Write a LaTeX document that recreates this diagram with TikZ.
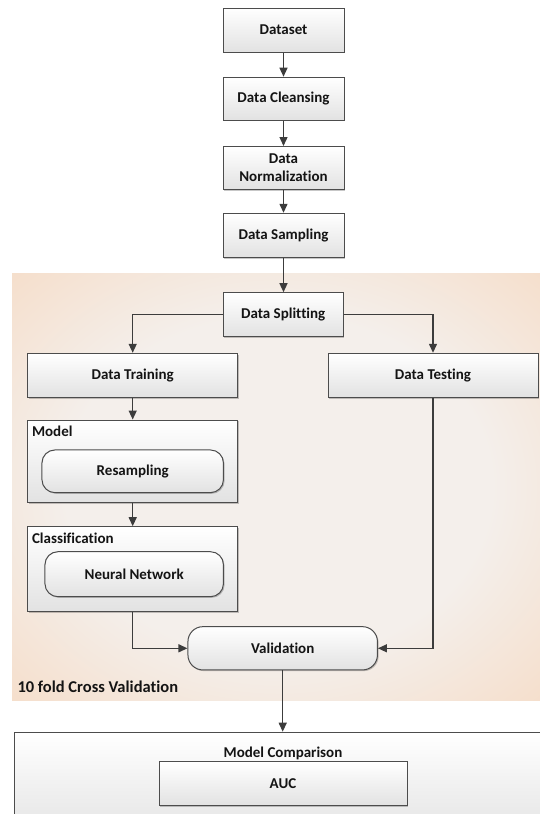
\documentclass[tikz,border=0pt]{standalone}
\usepackage{fontspec}
\setmainfont[Ligatures=NoCommon]{Carlito}
\usetikzlibrary{arrows.meta,shadows,calc}

\definecolor{boxline}{HTML}{4C4C4C}
\definecolor{boxgray}{HTML}{E2E2E2}
\definecolor{arrowc}{HTML}{3C3C3C}
\definecolor{textc}{HTML}{141414}
\definecolor{glowin}{HTML}{F4EFEB}
\definecolor{glowout}{HTML}{F6CFAE}

% soft peach glow used behind the cross-validation block
\pgfdeclareradialshading{peachglow}{\pgfpoint{0bp}{0bp}}{%
  color(0bp)=(glowin); color(20bp)=(glowin); color(50bp)=(glowout); color(72bp)=(glowout)}

\tikzset{
  txt/.style={font=\bfseries\fontsize{15}{18}\selectfont, text=textc},
  box/.style={txt, draw=boxline, line width=1pt, top color=white, bottom color=boxgray,
    align=center, inner sep=2pt,
    drop shadow={shadow xshift=1.2pt, shadow yshift=-1.2pt, opacity=0.22, fill=black}},
  rbox/.style={box, rounded corners=13pt},
  flow/.style={draw=arrowc, line width=1.3pt, -{Triangle[length=9pt,width=8pt]}},
}

\begin{document}
\begin{tikzpicture}[x=1pt, y=-1pt]
  \useasboundingbox (0,0) rectangle (539,814);

  % cross-validation background
  \shade[shading=peachglow] (12,273) rectangle (545,700);
  \node[txt, font=\bfseries\fontsize{16.5}{19}\selectfont, anchor=west] (cvlabel) at (14,687) {10 fold Cross Validation};

  % main preprocessing column
  \node[box, minimum width=121pt, minimum height=44pt] (dataset) at (283.5,30) {Dataset};
  \node[box, minimum width=121pt, minimum height=43pt] (cleansing) at (283.5,98.7) {Data Cleansing};
  \node[box, minimum width=121pt, minimum height=43pt] (normalization) at (283.5,168) {Data\\Normalization};
  \node[box, minimum width=121pt, minimum height=44pt] (sampling) at (283.5,235.3) {Data Sampling};
  \node[box, minimum width=120pt, minimum height=44pt] (splitting) at (283.2,314.7) {Data Splitting};

  % training / testing branches
  \node[box, minimum width=210.5pt, minimum height=44pt] (training) at (132.7,375.3) {Data Training};
  \node[box, minimum width=210pt, minimum height=44pt] (testing) at (433,375.3) {Data Testing};

  % model container
  \node[box, minimum width=210.5pt, minimum height=82.3pt] (model) at (132.7,461.2) {};
  \node[txt, anchor=west] (modellabel) at (28.5,431.7) {Model};
  \node[rbox, minimum width=181.5pt, minimum height=42.7pt] (resampling) at (132.7,471.3) {Resampling};

  % classification container
  \node[box, minimum width=210.5pt, minimum height=85pt] (classification) at (132.7,569.2) {};
  \node[txt, anchor=west] (classlabel) at (28.5,538.3) {Classification};
  \node[rbox, minimum width=178.5pt, minimum height=45pt] (neural) at (134.2,574.2) {Neural Network};

  % validation
  \node[rbox, rounded corners=15pt, minimum width=189.5pt, minimum height=43.3pt] (validation) at (282.7,648.3) {Validation};

  % model comparison
  \node[box, anchor=north west, minimum width=560pt, minimum height=110pt] (comparison) at (14.4,731.7) {};
  \node[txt] (comparisonlabel) at (283,753.3) {Model Comparison};
  \node[box, minimum width=248pt, minimum height=44pt] (auc) at (283,783.7) {AUC};

  % connectors
  \draw[flow] (dataset) -- (cleansing);
  \draw[flow] (cleansing) -- (normalization);
  \draw[flow] (normalization) -- (sampling);
  \draw[flow] (sampling) -- (sampling |- splitting.north);
  \draw[flow] (splitting.west) -| (training.north);
  \draw[flow] (splitting.east) -| (testing.north);
  \draw[flow] (training) -- (model);
  \draw[flow] (model) -- (classification);
  \draw[flow] (classification.south) |- (validation.west);
  \draw[flow] (testing.south) |- (validation.east);
  \draw[flow] (validation.south) -- (validation.south |- comparison.north);
\end{tikzpicture}
\end{document}
